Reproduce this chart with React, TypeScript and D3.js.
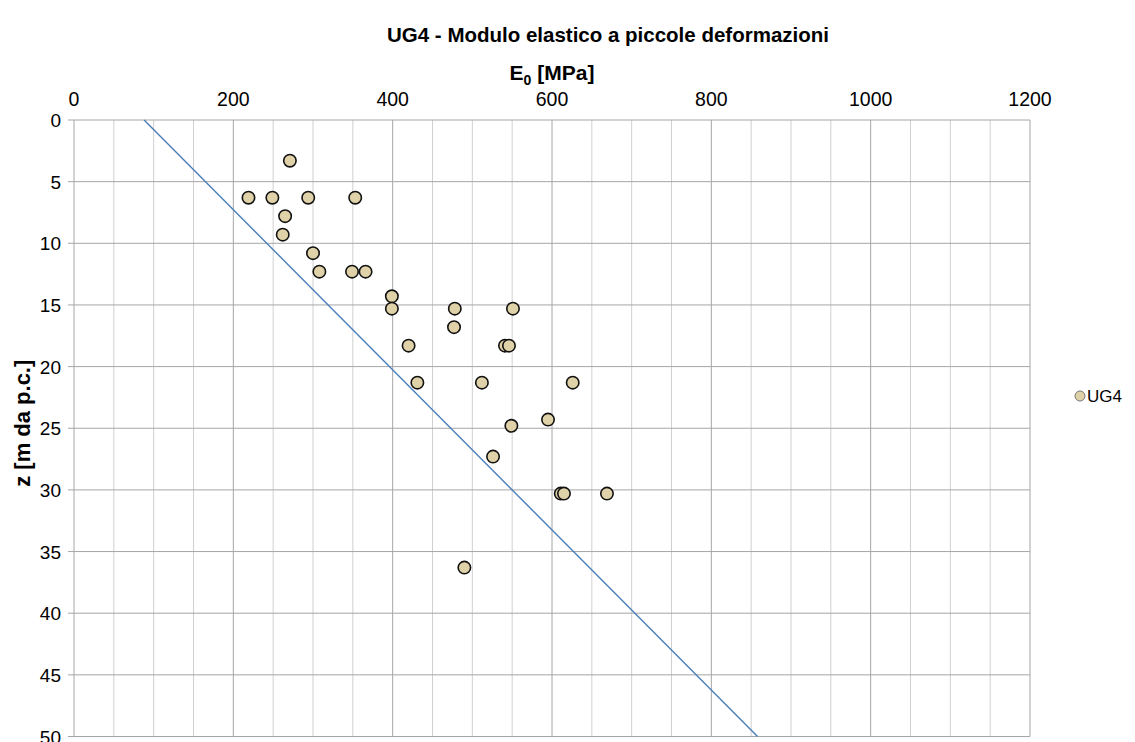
import React from "react";
import * as d3 from "d3";

const depths = [3.3, 6.3, 6.3, 6.3, 6.3, 7.8, 9.3, 10.8, 12.3, 12.3, 12.3, 14.3, 15.3, 15.3, 15.3, 16.8, 18.3, 18.3, 18.3, 21.3, 21.3, 21.3, 24.3, 24.8, 27.3, 30.3, 30.3, 30.3, 36.3];
const moduli = [271, 219, 249, 294, 353, 265, 262, 300, 308, 349, 366, 399, 399, 478, 551, 477, 420, 541, 546, 431, 512, 626, 595, 549, 526, 611, 615, 669, 490];
const trendE = [88, 858];
const trendZ = [0, 50];
const xTicks = [0, 200, 400, 600, 800, 1000, 1200];
const yTicks = [0, 5, 10, 15, 20, 25, 30, 35, 40, 45, 50];
const seriesName = "UG4";
const title = "UG4 - Modulo elastico a piccole deformazioni";

export default function App() {
  const W = 1135, H = 742;
  const left = 74, right = 1030, top = 120, bottom = 736.5;
  const x = d3.scaleLinear().domain([0, 1200]).range([left, right]);
  const y = d3.scaleLinear().domain([0, 50]).range([top, bottom]);
  const minor = d3.range(0, 1201, 50);
  const font = "'Liberation Sans', Arial, sans-serif";
  const line = d3.line<number>().x((d) => x(trendE[d])).y((d) => y(trendZ[d]));
  return (
    <svg width={W} height={H} style={{ position: "absolute", left: 0, top: 0, background: "#fff" }} fontFamily={font}>
      <rect x={0} y={0} width={W} height={H} fill="#fff" />
      <text x={608} y={42} textAnchor="middle" fontSize={20.5} fontWeight="bold" fill="#000">{title}</text>
      <text x={(left + right) / 2} y={80} textAnchor="middle" fontSize={21} fontWeight="bold" fill="#000">
        E<tspan fontSize={14} dy={5}>0</tspan><tspan dy={-5}> [MPa]</tspan>
      </text>
      {minor.map((v) => (
        <line key={"v" + v} x1={x(v)} x2={x(v)} y1={top} y2={bottom} stroke={v % 200 === 0 ? "#a6a6a6" : "#d0d0d0"} strokeWidth={1} />
      ))}
      {yTicks.map((v) => (
        <line key={"h" + v} x1={left - 6} x2={right} y1={y(v)} y2={y(v)} stroke="#a6a6a6" strokeWidth={1} />
      ))}
      {xTicks.map((v) => (
        <text key={"xt" + v} x={x(v)} y={106} textAnchor="middle" fontSize={19.5} fill="#000">{v}</text>
      ))}
      {yTicks.map((v) => (
        <text key={"yt" + v} x={61} y={y(v) + 7} textAnchor="end" fontSize={19} fill="#000">{v}</text>
      ))}
      <text transform={`translate(30,${(top + bottom) / 2 - 5}) rotate(-90)`} textAnchor="middle" fontSize={22} fontWeight="bold" fill="#000">z [m da p.c.]</text>
      <path d={line([0, 1]) || ""} stroke="#4a7ebb" strokeWidth={1.4} fill="none" />
      {moduli.map((e, i) => (
        <circle key={"p" + i} cx={x(e)} cy={y(depths[i])} r={6.2} fill="#e0d2a8" stroke="#111" strokeWidth={1.6} />
      ))}
      <circle cx={1080} cy={396} r={5} fill="#e0d2a8" stroke="#777" strokeWidth={1} />
      <text x={1087} y={402} fontSize={17} fill="#000">{seriesName}</text>
    </svg>
  );
}
